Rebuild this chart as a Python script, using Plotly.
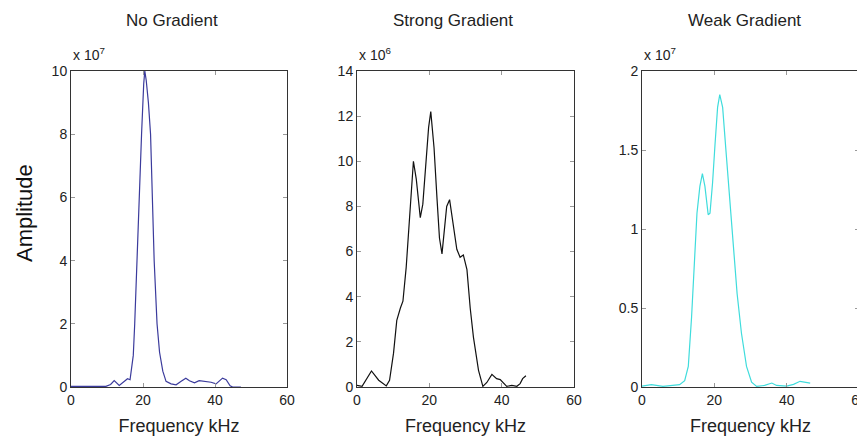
import plotly.graph_objects as go

# ---------------- data ----------------
titles = ["No Gradient", "Strong Gradient", "Weak Gradient"]
x_label = "Frequency kHz"
y_label = "Amplitude"

# No Gradient (x 1e7)
no_x = [0, 5, 9.7, 11, 12.0, 13.4, 14.8, 15.7, 16.4, 16.9, 17.3, 17.7, 18.3, 18.9, 19.6, 20.2, 20.5,
        20.9, 21.5, 22.1, 22.6, 23.1, 23.9, 24.6, 25.5, 26.4, 27.8, 29.2, 30.6, 31.9, 32.9, 34.3,
        35.6, 37.5, 38.9, 40.3, 42.1, 43.1, 44.2, 44.9, 47.2]
no_y = [0.02, 0.02, 0.02, 0.08, 0.2, 0.05, 0.18, 0.26, 0.23, 0.6, 1.0, 2.0, 4.0, 6.0, 8.0, 9.6, 10.0,
        9.7, 9.0, 8.0, 6.0, 4.0, 2.0, 1.1, 0.5, 0.18, 0.1, 0.07, 0.18, 0.28, 0.2, 0.13,
        0.2, 0.18, 0.15, 0.1, 0.28, 0.23, 0.04, 0.0, 0.0]

# Strong Gradient (x 1e6)
st_x = [0, 1.4, 4.0, 6.0, 8.1, 9.0, 10.1, 11.0, 12.0, 12.7, 13.6, 14.3, 14.9, 15.6, 16.4, 17.5, 18.2,
        18.9, 19.8, 20.4, 21.3, 22.1, 22.8, 23.5, 24.1, 24.8, 25.6, 26.5, 27.6, 28.5, 29.4, 30.4,
        31.3, 32.2, 33.6, 34.8, 35.9, 37.3, 38.6, 39.6, 40.5, 41.4, 42.8, 44.2, 45.1, 45.8, 46.7]
st_y = [0.07, 0.03, 0.71, 0.3, 0.05, 0.3, 1.5, 2.95, 3.5, 3.8, 5.3, 7.1, 8.7, 10.0, 9.2, 7.5, 8.1,
        9.6, 11.5, 12.2, 10.6, 8.4, 6.6, 5.9, 6.8, 8.0, 8.3, 7.4, 6.1, 5.75, 5.85, 5.2,
        3.5, 2.2, 0.74, 0.03, 0.2, 0.56, 0.37, 0.33, 0.18, 0.03, 0.07, 0.03, 0.15, 0.37, 0.5]

# Weak Gradient (x 1e7)
wk_x = [0, 2.6, 5.8, 10.4, 11.8, 12.8, 13.7, 14.6, 15.2, 16.0, 16.7, 17.4, 18.3, 18.8, 19.5, 20.2,
        20.9, 21.5, 22.3, 23.2, 24.3, 25.4, 26.3, 27.5, 28.9, 30.3, 31.7, 33.9, 35.9, 37.2, 40.0,
        41.9, 43.7, 46.5]
wk_y = [0.006, 0.015, 0.004, 0.015, 0.04, 0.13, 0.44, 0.86, 1.1, 1.27, 1.35, 1.27, 1.09, 1.10, 1.29,
        1.54, 1.77, 1.85, 1.77, 1.5, 1.18, 0.84, 0.59, 0.34, 0.13, 0.03, 0.004, 0.01, 0.025, 0.01,
        0.006, 0.017, 0.036, 0.025]

x_ticks = [0, 20, 40, 60]
y_ticks = [[0, 2, 4, 6, 8, 10], [0, 2, 4, 6, 8, 10, 12, 14], [0, 0.5, 1, 1.5, 2]]
y_ticktext = [["0", "2", "4", "6", "8", "10"], ["0", "2", "4", "6", "8", "10", "12", "14"],
              ["0", "0.5", "1", "1.5", "2"]]
y_ranges = [[0, 10], [0, 14], [0, 2]]
exponents = ["7", "6", "7"]

series = [(no_x, no_y), (st_x, st_y), (wk_x, wk_y)]
colors = ["#3b3b9c", "#111111", "#3fdcdc"]

# ---------------- layout ----------------
W, H = 865, 439
OFF = 8  # page body margin offset
def px(x):
    return (x - OFF) / W
def py(y):
    return 1 - (y - OFF) / H

x_doms = [[px(71), px(287)], [px(357), px(574)], [px(642), px(859)]]
y_dom = [py(387), py(71)]

font = "Liberation Sans, Arial, sans-serif"
fig = go.Figure()
layout = dict(
    width=W, height=H, margin=dict(l=0, r=0, t=0, b=0, autoexpand=False),
    paper_bgcolor="white", plot_bgcolor="white", showlegend=False,
    font=dict(family=font, color="#222222", size=13),
)
annotations = []
title_cx = [172, 453, 744]
for i, (xs, ys) in enumerate(series):
    n = "" if i == 0 else str(i + 1)
    fig.add_trace(go.Scatter(x=xs, y=ys, mode="lines", xaxis="x" + n, yaxis="y" + n,
                             line=dict(color=colors[i], width=1.2), hoverinfo="skip"))
    common = dict(showline=True, linecolor="#333333", linewidth=1, mirror="allticks",
                  ticks="inside", ticklen=4, tickcolor="#999999", showgrid=False, zeroline=False,
                  automargin=False,
                  tickfont=dict(family=font, size=14, color="#222222"))
    layout["xaxis" + n] = dict(domain=x_doms[i], range=[0, 60], tickvals=x_ticks,
                               anchor="y" + n,
                               title=dict(text=x_label, font=dict(size=18, family=font, color="#222222"), standoff=12),
                               **common)
    layout["yaxis" + n] = dict(domain=y_dom, range=y_ranges[i], tickvals=y_ticks[i],
                               ticktext=y_ticktext[i], anchor="x" + n, **common)
    annotations.append(dict(text=titles[i], x=px(title_cx[i]), y=py(21), xref="paper", yref="paper",
                            showarrow=False, xanchor="center", yanchor="middle",
                            font=dict(size=17, family=font, color="#222222")))
    annotations.append(dict(text="x 10<sup>" + exponents[i] + "</sup>", x=x_doms[i][0], y=py(65),
                            xref="paper", yref="paper", showarrow=False, xanchor="left",
                            yanchor="bottom", font=dict(size=14, family=font, color="#222222")))

annotations.append(dict(text=y_label, x=px(24), y=py(213), xref="paper", yref="paper",
                        showarrow=False, textangle=-90, xanchor="center", yanchor="middle",
                        font=dict(size=22, family=font, color="#111111")))
layout["annotations"] = annotations
fig.update_layout(**layout)
fig.write_html("out.html")
